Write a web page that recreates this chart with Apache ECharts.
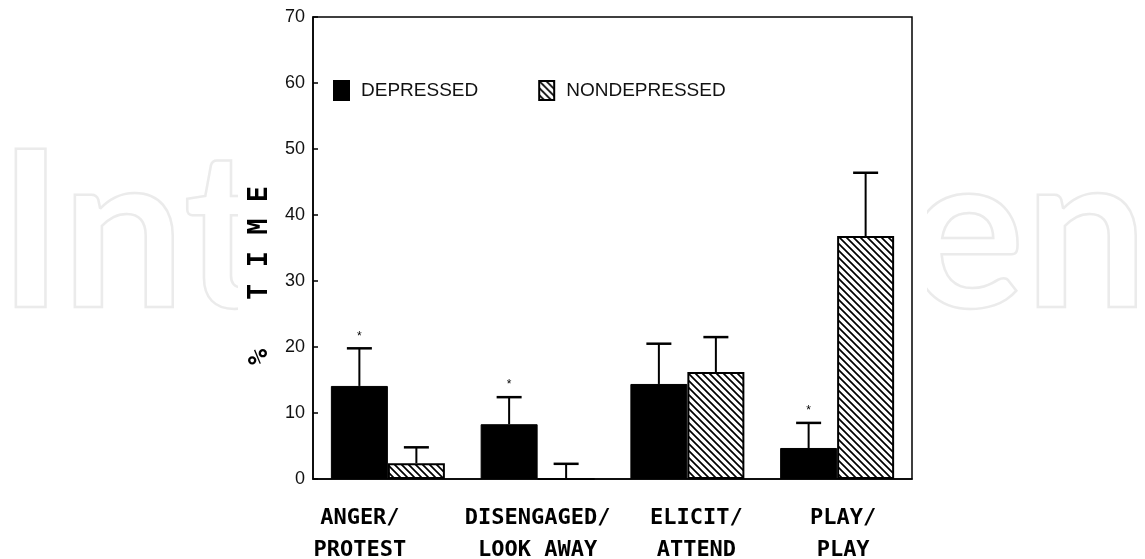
<!DOCTYPE html>
<html>
<head>
<meta charset="utf-8">
<script src="https://cdn.jsdelivr.net/npm/echarts@6/dist/echarts.min.js"></script>
<style>
    html, body { margin: 0; padding: 0; background: #fff; }
    #chart { width: 1145px; height: 559px; }
</style>
</head>
<body>
<div id="chart"></div>
<script>
// values (% time)
const categories = ['ANGER/\nPROTEST', 'DISENGAGED/\nLOOK AWAY', 'ELICIT/\nATTEND', 'PLAY/\nPLAY'];
const depressed = [14.1, 8.3, 14.4, 4.7];
const depressedErr = [19.8, 12.4, 20.5, 8.5];
const nondepressed = [2.4, 0, 16.2, 36.8];
const nondepressedErr = [4.8, 2.3, 21.5, 46.4];
const significant = [true, true, false, true];
const yTicks = { min: 0, max: 70, interval: 10 };

const barWidth = 57;
// the printed labels are not quite centred under their bars
const labelPad = [[0, 56, 0, 0], [0, 0, 0, 0], [0, 0, 0, 18], [0, 0, 0, 12]];

function hatch() {
    const c = document.createElement('canvas');
    c.width = 7; c.height = 7;
    const ctx = c.getContext('2d');
    ctx.fillStyle = '#fff';
    ctx.fillRect(0, 0, 7, 7);
    ctx.strokeStyle = '#000';
    ctx.lineWidth = 1.7;
    ctx.beginPath();
    ctx.moveTo(-1, -1); ctx.lineTo(8, 8);
    ctx.moveTo(-4.5, 2.5); ctx.lineTo(4.5, 11.5);
    ctx.moveTo(2.5, -4.5); ctx.lineTo(11.5, 4.5);
    ctx.stroke();
    return c;
}

// error bar (+ asterisk) drawn on top of a bar; side -1 = left bar, +1 = right bar
function errorBars(values, errs, side, stars) {
    return function (params, api) {
        const i = params.dataIndex;
        const base = api.coord([i, values[i]]);
        const top = api.coord([i, errs[i]]);
        const x = base[0] + side * barWidth / 2;
        const children = [
            { type: 'line', shape: { x1: x, y1: base[1], x2: x, y2: top[1] }, style: { stroke: '#000', lineWidth: 2 } },
            { type: 'line', shape: { x1: x - 12.5, y1: top[1], x2: x + 12.5, y2: top[1] }, style: { stroke: '#000', lineWidth: 2.5 } }
        ];
        if (stars && stars[i]) {
            children.push({
                type: 'text',
                style: { text: '*', x: x, y: top[1] - 6, align: 'center', verticalAlign: 'bottom', fontSize: 12, fill: '#000' }
            });
        }
        return { type: 'group', children: children };
    };
}

const chart = echarts.init(document.getElementById('chart'));
const option = {
    backgroundColor: '#fff',
    animation: false,
    graphic: [
        {
            type: 'text', z: -20, left: -3, top: 126,
            style: { text: 'IntechOpen', fontFamily: 'Lato', fontWeight: 'bold', fontSize: 219, fill: 'rgba(0,0,0,0)', stroke: '#ebebeb', lineWidth: 2.5 }
        },
        {
            type: 'rect', z: -10, shape: { x: 238, y: 0, width: 689, height: 559 },
            style: { fill: '#fff' }
        }
    ],
    grid: {
        left: 313, right: 233, top: 17, bottom: 80,
        outerBoundsMode: 'none', containLabel: false,
        show: true, backgroundColor: '#fff', borderColor: '#000', borderWidth: 1.5
    },
    legend: {
        data: ['DEPRESSED', 'NONDEPRESSED'],
        left: 328, top: 75,
        itemWidth: 15, itemHeight: 19, itemGap: 60,
        icon: 'rect',
        textStyle: { fontFamily: 'Liberation Sans', fontSize: 19, color: '#111', padding: [0, 0, 0, 7] }
    },
    xAxis: {
        type: 'category',
        data: categories.map((c, i) => ({ value: c, textStyle: { padding: labelPad[i] } })),
        axisLine: { lineStyle: { color: '#000', width: 1.5 } },
        axisTick: { show: false },
        axisLabel: {
            interval: 0, margin: 23, lineHeight: 32, color: '#000',
            fontFamily: 'DejaVu Sans Mono', fontWeight: 'bold', fontSize: 22
        }
    },
    yAxis: {
        type: 'value',
        min: yTicks.min, max: yTicks.max, interval: yTicks.interval,
        name: '%   T I M E',
        nameLocation: 'middle', nameRotate: 90, nameGap: 40,
        nameTextStyle: { fontFamily: 'DejaVu Sans Mono', fontWeight: 'bold', fontSize: 27, color: '#000', padding: [0, 55, 0, 0] },
        axisLine: { show: true, lineStyle: { color: '#000', width: 1.5 } },
        axisTick: { show: true, inside: true, length: 5, lineStyle: { color: '#000', width: 1.5 } },
        splitLine: { show: false },
        axisLabel: { margin: 8, color: '#111', fontFamily: 'Liberation Sans', fontSize: 18 }
    },
    series: [
        {
            name: 'DEPRESSED', type: 'bar', data: depressed,
            barWidth: barWidth, barGap: '0%',
            itemStyle: { color: '#000', borderColor: '#000', borderWidth: 1 }
        },
        {
            name: 'NONDEPRESSED', type: 'bar', data: nondepressed,
            barWidth: barWidth,
            itemStyle: { color: { image: hatch(), repeat: 'repeat' }, borderColor: '#000', borderWidth: 2 }
        },
        {
            type: 'custom', z: 5, data: depressedErr,
            renderItem: errorBars(depressed, depressedErr, -1, significant)
        },
        {
            type: 'custom', z: 5, data: nondepressedErr,
            renderItem: errorBars(nondepressed, nondepressedErr, 1, null)
        }
    ]
};
option && chart.setOption(option);
</script>
</body>
</html>
